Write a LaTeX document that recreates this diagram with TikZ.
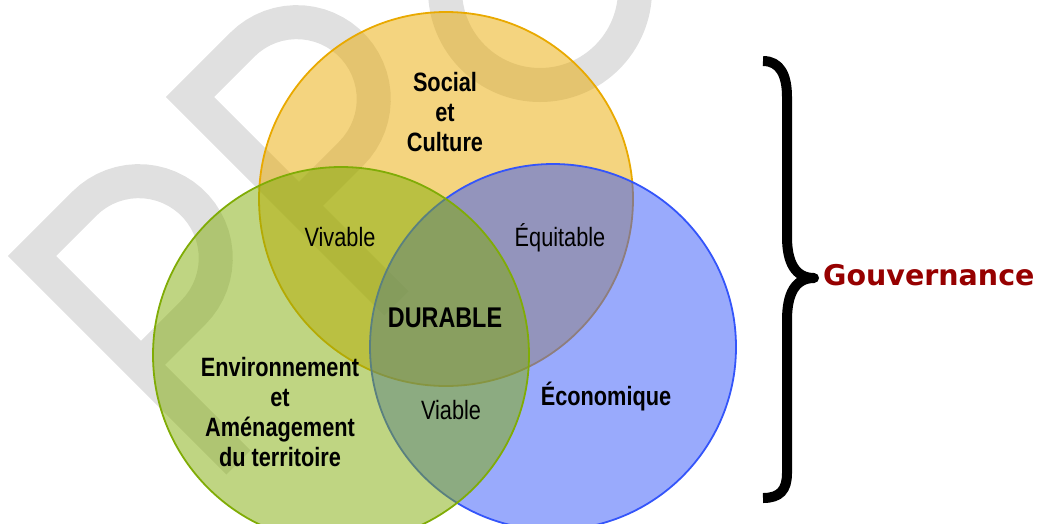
\documentclass[tikz,border=0pt]{standalone}
\usepackage{fontspec}
\setmainfont{Liberation Sans}[FakeStretch=0.82]
\newfontfamily\gouvfont{DejaVu Sans}

\definecolor{wmgrey}{RGB}{224,224,224}
\definecolor{socialc}{RGB}{233,169,0}
\definecolor{ecoc}{RGB}{52,85,250}
\definecolor{envc}{RGB}{128,172,6}
\definecolor{gouvred}{RGB}{150,0,0}

\tikzset{
  sphere/.style={circle, inner sep=0pt, line width=1.8pt, fill opacity=0.5},
  wmstroke/.style={draw=wmgrey, line width=34pt, line join=miter},
  pillar/.style={font=\fontsize{26.5}{30}\selectfont\bfseries, align=center, inner sep=0pt},
  overlap/.style={font=\fontsize{26.5}{30}\selectfont, inner sep=0pt, anchor=base},
}

\begin{document}
\begin{tikzpicture}[x=1pt, y=-1pt]
  \useasboundingbox (0,0) rectangle (1040,523);
  \clip (0,0) rectangle (1040,523);

  % watermark
  \begin{scope}[shift={(32,256)}, x={(0.7071pt,0.7071pt)}, y={(0.7071pt,-0.7071pt)}]
    \draw[wmstroke] (0,292) -- (0,0) -- plot[domain=-90:90, samples=30] ({74+77*cos(\x)}, {77+77*sin(\x)}) -- (0,154);
  \end{scope}
  \begin{scope}[shift={(190,97)}, x={(0.7071pt,0.7071pt)}, y={(0.7071pt,-0.7071pt)}]
    \draw[wmstroke] (0,292) -- (0,0) -- plot[domain=-90:90, samples=30] ({74+77*cos(\x)}, {77+77*sin(\x)}) -- (0,154);
    \clip (-60,-60) rectangle (300,292);
    \draw[wmstroke] (80,150) -- (200,358);
  \end{scope}
  \draw[wmstroke] (540,-10) circle[radius=95];

  \node[sphere, draw=socialc, fill=socialc, minimum size=374pt] (social) at (446,199) {};
  \node[sphere, draw=ecoc, fill=ecoc, minimum size=366pt] (eco) at (553,347) {};
  \node[sphere, draw=envc, fill=envc, minimum size=376pt] (env) at (341,355) {};

  \node[pillar] (soclabel) at (445,112.5) {Social\\et\\Culture};
  \node[pillar] (envlabel) at (280,412.5) {Environnement\\et\\Aménagement\\du territoire};
  \node[pillar, anchor=base] (ecolabel) at (606,405) {Économique};
  \node[pillar, anchor=base, font=\fontsize{28.5}{32}\selectfont\bfseries] (durable) at (445,327) {DURABLE};

  \node[overlap] (vivable) at (340,246) {Vivable};
  \node[overlap] (equitable) at (560,246) {Équitable};
  \node[overlap] (viable) at (451,419) {Viable};

  % brace
  \draw[line width=10pt, line join=round] (763,61) .. controls (780,61) and (787,75) .. (787,97)
    -- (787,237) .. controls (787,262) and (795,278) .. (814,278)
    .. controls (795,278) and (787,294) .. (787,320)
    -- (787,473) .. controls (787,490) and (780,498) .. (763,498);
  \node[anchor=base west, inner sep=0pt, text=gouvred, font=\gouvfont\bfseries\fontsize{28.5}{34}\selectfont] (gouv) at (823,285) {Gouvernance};
\end{tikzpicture}
\end{document}
